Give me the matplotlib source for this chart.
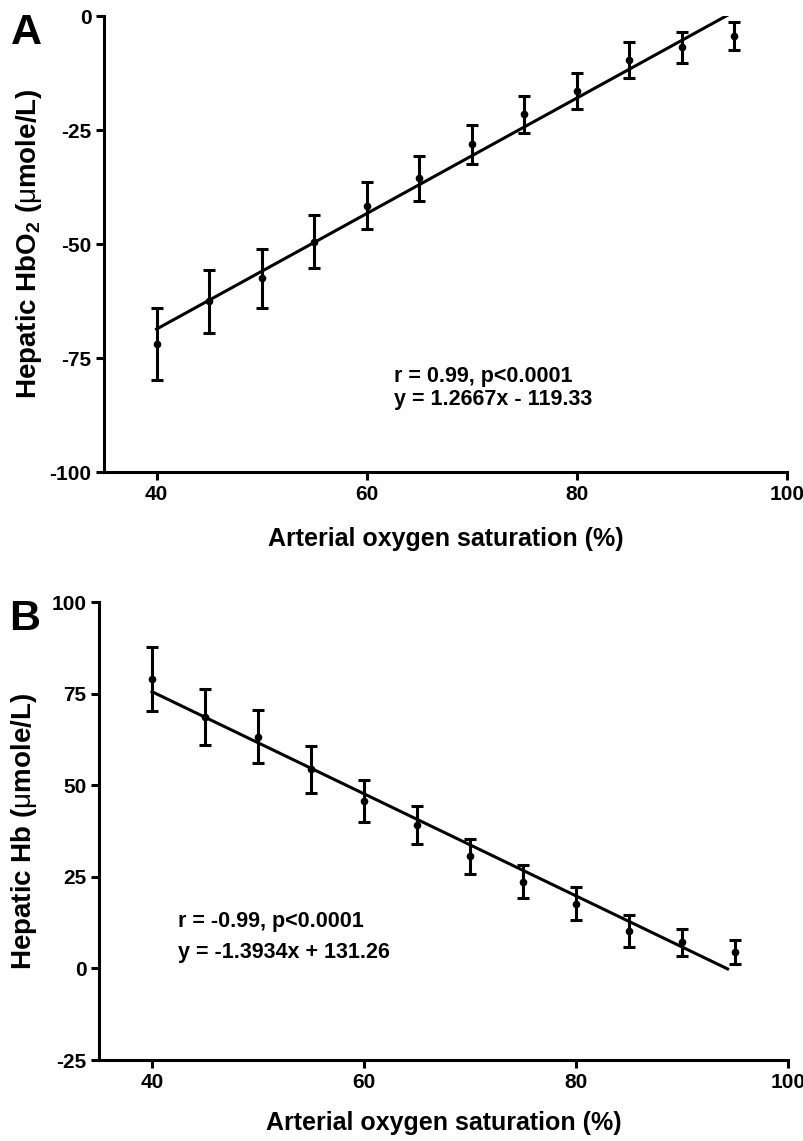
import matplotlib
matplotlib.use("Agg")
import matplotlib.pyplot as plt
import numpy as np

plt.rcParams['font.family'] = ['Liberation Sans', 'DejaVu Sans']
plt.rcParams['mathtext.fontset'] = 'custom'
plt.rcParams['mathtext.rm'] = 'Liberation Sans'
plt.rcParams['mathtext.bf'] = 'Liberation Sans:bold'
plt.rcParams['mathtext.it'] = 'Liberation Sans:italic'
plt.rcParams['axes.unicode_minus'] = False

# Data
sao2 = [40, 45, 50, 55, 60, 65, 70, 75, 80, 85, 90, 95]
hbo2_mean = [-72.0, -62.6, -57.5, -49.5, -41.6, -35.6, -28.1, -21.6, -16.4, -9.6, -6.9, -4.4]
hbo2_err = [7.9, 7.0, 6.5, 5.8, 5.1, 4.9, 4.3, 4.0, 4.0, 4.0, 3.3, 3.1]
hb_mean = [78.9, 68.6, 63.2, 54.3, 45.7, 39.1, 30.6, 23.6, 17.7, 10.2, 7.1, 4.5]
hb_err = [8.7, 7.6, 7.2, 6.4, 5.7, 5.2, 4.8, 4.5, 4.4, 4.4, 3.7, 3.2]
fit_range = [40, 94.3]
fit_a = (1.2667, -119.33)
fit_b = (-1.3934, 131.26)
xticks = [40, 60, 80, 100]
yticks_a = [-100, -75, -50, -25, 0]
yticks_b = [-25, 0, 25, 50, 75, 100]

fig = plt.figure(figsize=(8.04, 11.41), dpi=100)
W, H = 804, 1141
axA = fig.add_axes([104 / W, 1 - 472 / H, (787 - 104) / W, (472 - 16) / H])
axB = fig.add_axes([99 / W, 1 - 1060 / H, (788 - 99) / W, (1060 - 602) / H])

def style(ax, yticks, ylim, xpad):
    ax.set_xlim(35, 100)
    ax.set_ylim(*ylim)
    ax.set_xticks(xticks)
    ax.set_yticks(yticks)
    for s in ['top', 'right']:
        ax.spines[s].set_visible(False)
    for s in ['left', 'bottom']:
        ax.spines[s].set_linewidth(2.2)
    ax.tick_params(direction='out', length=6, width=2.2, labelsize=15, pad=3)
    for lab in ax.get_xticklabels() + ax.get_yticklabels():
        lab.set_fontweight('bold')
    ax.set_xlabel('Arterial oxygen saturation (%)', fontsize=18, fontweight='bold', labelpad=xpad)

def panel(ax, mean, err, fit):
    ax.errorbar(sao2, mean, yerr=err, fmt='o', color='black', ms=4.5, elinewidth=2.2,
                capsize=4, capthick=2.2, clip_on=False, zorder=3)
    xf = np.array(fit_range)
    ax.plot(xf, fit[0] * xf + fit[1], color='black', lw=2.2, zorder=2)

panel(axA, hbo2_mean, hbo2_err, fit_a)
style(axA, yticks_a, (-100, 0), 17)
axA.set_ylabel(r'$\mathbf{Hepatic\ HbO}_{\mathbf{2}}\mathbf{\ (}\mathrm{\mu}\mathbf{mole/L)}$', fontsize=20, labelpad=4)
axA.text(62.6, -80.2, 'r = 0.99, p<0.0001', fontsize=15.5, fontweight='bold', va='baseline')
axA.text(62.6, -85.4, 'y = 1.2667x - 119.33', fontsize=15.5, fontweight='bold', va='baseline')

panel(axB, hb_mean, hb_err, fit_b)
style(axB, yticks_b, (-25, 100), 14)
axB.set_ylabel(r'$\mathbf{Hepatic\ Hb\ (}\mathrm{\mu}\mathbf{mole/L)}$', fontsize=20, labelpad=9)
axB.text(42.5, 11.3, 'r = -0.99, p<0.0001', fontsize=15.5, fontweight='bold', va='baseline')
axB.text(42.5, 2.8, 'y = -1.3934x + 131.26', fontsize=15.5, fontweight='bold', va='baseline')

fig.text(11 / W, 1 - 44 / H, 'A', fontsize=31, fontweight='bold', va='baseline')
fig.text(9 / W, 1 - 630 / H, 'B', fontsize=31, fontweight='bold', va='baseline')

fig.savefig('out.png', dpi=100)
